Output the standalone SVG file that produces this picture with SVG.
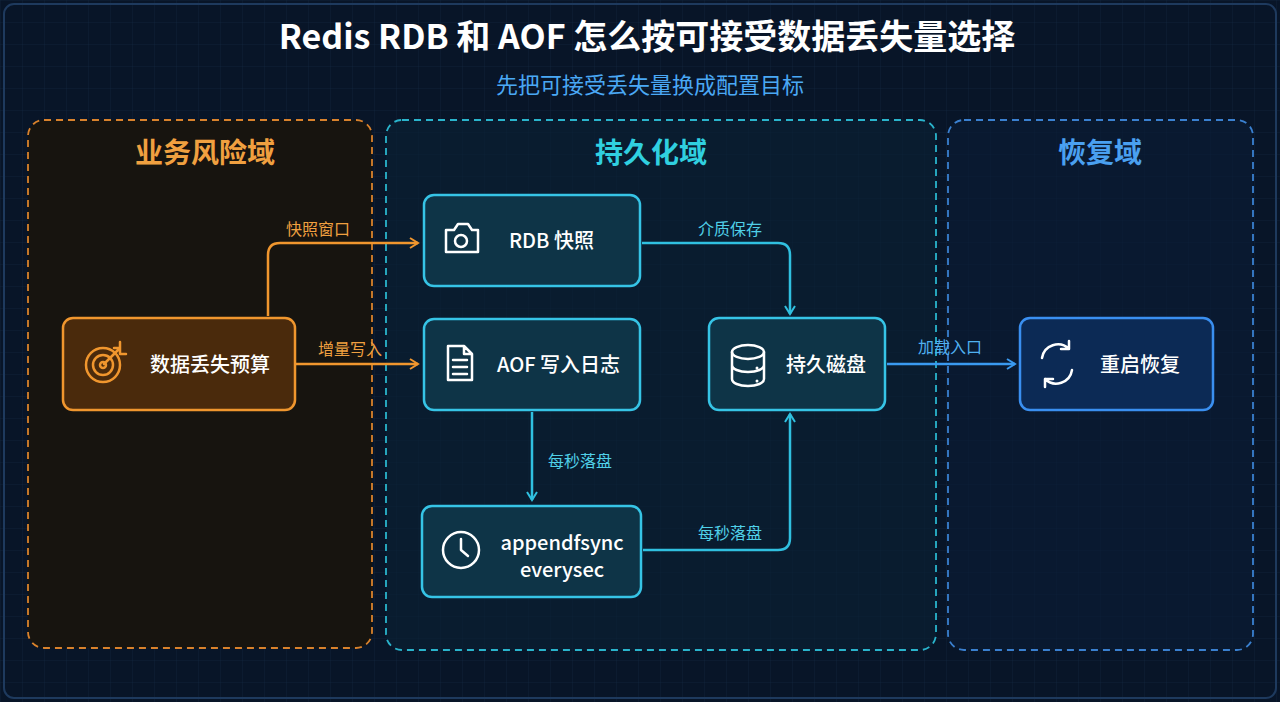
<svg xmlns="http://www.w3.org/2000/svg" width="1280" height="702" viewBox="0 0 1280 702">
<defs>
<pattern id="grid" width="22" height="22" patternUnits="userSpaceOnUse"><path d="M22 0H0V22" fill="none" stroke="#1a3450" stroke-width="0.6" opacity="0.6"/></pattern>
<marker id="ao" viewBox="0 0 12 12" refX="10" refY="6" markerWidth="12" markerHeight="12" markerUnits="userSpaceOnUse" orient="auto"><path d="M2 1L10 6L2 11" fill="none" stroke="#f0962e" stroke-width="2"/></marker>
<marker id="ac" viewBox="0 0 12 12" refX="10" refY="6" markerWidth="12" markerHeight="12" markerUnits="userSpaceOnUse" orient="auto"><path d="M2 1L10 6L2 11" fill="none" stroke="#30c0e0" stroke-width="2"/></marker>
<marker id="ab" viewBox="0 0 12 12" refX="10" refY="6" markerWidth="12" markerHeight="12" markerUnits="userSpaceOnUse" orient="auto"><path d="M2 1L10 6L2 11" fill="none" stroke="#3a9af0" stroke-width="2"/></marker>
</defs>
<style>
text{font-family:"Noto Sans CJK SC","Liberation Sans",sans-serif}
.zt{font-size:28px;font-weight:bold;text-anchor:middle}
.nt{font-size:20px;fill:#ffffff;font-weight:500}
.cn{fill:#0e3447;stroke:#36c4e6;stroke-width:2.5}
.lb{font-size:16px;text-anchor:middle}
.ic{fill:none;stroke:#ffffff;stroke-width:2.5;stroke-linecap:round;stroke-linejoin:round}
.oc{fill:none;stroke:#f0962e;stroke-width:2.5;stroke-linecap:round;stroke-linejoin:round}
.ln{fill:none;stroke-width:2.5;stroke-linejoin:round}
</style>
<rect width="1280" height="702" fill="#081528"/>
<rect width="1280" height="702" fill="url(#grid)"/>
<rect x="4" y="4" width="1272" height="694" rx="10" fill="none" stroke="#1e3a5e" stroke-width="2"/>
<text x="647" y="49" font-size="34" font-weight="bold" fill="#ffffff" text-anchor="middle">Redis RDB 和 AOF 怎么按可接受数据丢失量选择</text>
<text x="650" y="93" font-size="22" fill="#4aa8f5" text-anchor="middle">先把可接受丢失量换成配置目标</text>
<g id="zone-risk"><rect x="28" y="120" width="344" height="528" rx="16" fill="#17140f" stroke="#d9822c" stroke-width="1.8" stroke-dasharray="7 5"/><text class="zt" x="205" y="163" fill="#f0a040">业务风险域</text></g>
<g id="zone-persist"><rect x="386" y="120" width="550" height="530" rx="16" fill="#0a2234" fill-opacity="0.6" stroke="#2ab4cc" stroke-width="1.8" stroke-dasharray="7 5"/><text class="zt" x="651" y="163" fill="#30d0e0">持久化域</text></g>
<g id="zone-recover"><rect x="948" y="120" width="305" height="530" rx="16" fill="#0a1c36" fill-opacity="0.6" stroke="#3a80d0" stroke-width="1.8" stroke-dasharray="7 5"/><text class="zt" x="1100" y="163" fill="#4aa0f0">恢复域</text></g>
<g id="connectors">
<path class="ln" stroke="#f0962e" d="M268 316V255Q268 243 280 243H418" marker-end="url(#ao)"/>
<text class="lb" x="318" y="235" fill="#f0a040">快照窗口</text>
<path class="ln" stroke="#f0962e" d="M296 364H418" marker-end="url(#ao)"/>
<text class="lb" x="350" y="355" fill="#f0a040">增量写入</text>
<path class="ln" stroke="#30c0e0" d="M642 243H778Q790 243 790 255V314" marker-end="url(#ac)"/>
<text class="lb" x="730" y="235" fill="#50d0e8">介质保存</text>
<path class="ln" stroke="#30c0e0" d="M532 412V500" marker-end="url(#ac)"/>
<text class="lb" x="580" y="467" fill="#50d0e8">每秒落盘</text>
<path class="ln" stroke="#30c0e0" d="M643 550H778Q790 550 790 538V414" marker-end="url(#ac)"/>
<text class="lb" x="730" y="539" fill="#50d0e8">每秒落盘</text>
<path class="ln" stroke="#3a9af0" d="M887 364H1015" marker-end="url(#ab)"/>
<text class="lb" x="950" y="353" fill="#50b0f0">加载入口</text>
</g>
<g id="n-budget"><rect x="63" y="318" width="232" height="92" rx="10" fill="#4a2a0c" stroke="#f0962e" stroke-width="2.5"/>
<circle class="oc" cx="103" cy="365" r="17"/><circle class="oc" cx="103" cy="365" r="10"/><circle class="oc" cx="103" cy="365" r="3"/><path class="oc" d="M104 364L120 348M114 348h6v-6M120 348v6h6"/>
<text class="nt" x="210" y="372" text-anchor="middle">数据丢失预算</text></g>
<g id="n-rdb"><rect class="cn" x="424" y="195" width="216" height="91" rx="10"/>
<path class="ic" d="M446 230h8l4-6h10l4 6h6v22h-32z"/><circle class="ic" cx="461" cy="241" r="6"/>
<text class="nt" x="509" y="248">RDB 快照</text></g>
<g id="n-aof"><rect class="cn" x="424" y="319" width="216" height="91" rx="10"/>
<path class="ic" d="M448 346h16l8 8v26h-24zM464 346v8h8M453 360h14M453 367h14M453 374h14"/>
<text class="nt" x="497" y="372">AOF 写入日志</text></g>
<g id="n-append"><rect class="cn" x="422" y="506" width="219" height="91" rx="10"/>
<circle class="ic" cx="461" cy="550" r="18"/><path class="ic" d="M461 539v11l7 6"/>
<text class="nt" x="562" y="550" text-anchor="middle">appendfsync</text><text class="nt" x="562" y="577" text-anchor="middle">everysec</text></g>
<g id="n-disk"><rect class="cn" x="709" y="318" width="176" height="92" rx="10"/>
<ellipse class="ic" cx="748" cy="352" rx="16" ry="7"/><path class="ic" d="M732 352v27c0 4 7 7 16 7s16-3 16-7v-27M732 365c0 4 7 7 16 7s16-3 16-7"/>
<circle cx="757" cy="368" r="1.5" fill="#fff"/><circle cx="757" cy="381" r="1.5" fill="#fff"/>
<text class="nt" x="786" y="372">持久磁盘</text></g>
<g id="n-restart"><rect x="1020" y="318" width="193" height="92" rx="10" fill="#0c2a55" stroke="#3a8ff0" stroke-width="2.5"/>
<path class="ic" d="M1042 358a16 16 0 0 1 27-9M1072 370a16 16 0 0 1-27 9M1069 341v8h-8M1045 387v-8h8"/>
<text class="nt" x="1100" y="372">重启恢复</text></g>
</svg>
